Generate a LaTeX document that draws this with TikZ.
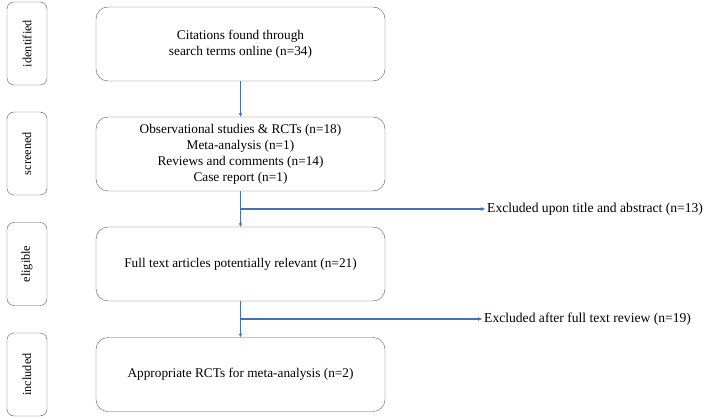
\documentclass[tikz,border=0pt]{standalone}
\usepackage{fontspec}
\setmainfont{Liberation Serif}
\usetikzlibrary{arrows.meta}

\tikzset{
	stagebox/.style={draw=black!65, rounded corners=7pt, minimum width=40pt, minimum height=83pt, inner sep=0pt},
	stagetext/.style={rotate=90, font=\fontsize{12.3}{14}\selectfont},
	mainbox/.style={draw=black!65, rounded corners=12pt, minimum width=289pt, minimum height=74pt, align=center, font=\fontsize{13.3}{16}\selectfont},
	flow/.style={draw=arrowblue, line width=1.1pt, -{Stealth[length=4pt,width=3.5pt]}},
}
\definecolor{arrowblue}{RGB}{68,114,176}

\begin{document}
\begin{tikzpicture}[x=1pt,y=-1pt]
	\useasboundingbox (0,0) rectangle (708,419);

	% Stage labels on the left
	\node[stagebox] (sIdent) at (27,43.5) {};
	\node[stagetext] at (sIdent) {identified};
	\node[stagebox] (sScreen) at (27,153.5) {};
	\node[stagetext] at (sScreen) {screened};
	\node[stagebox] (sElig) at (27,264) {};
	\node[stagetext] at (sElig) {eligible};
	\node[stagebox] (sIncl) at (27,374.5) {};
	\node[stagetext] at (sIncl) {included};

	% Main boxes
	\node[mainbox] (found) at (240.5,44) {Citations found through\\search terms online (n=34)};
	\node[mainbox] (screen) at (240.5,154) {Observational studies \& RCTs (n=18)\\Meta-analysis (n=1)\\Reviews and comments (n=14)\\Case report (n=1)};
	\node[mainbox] (full) at (240.5,264) {Full text articles potentially relevant (n=21)};
	\node[mainbox] (rcts) at (240.5,374.5) {Appropriate RCTs for meta-analysis (n=2)};

	% Excluded texts
	\node[anchor=west, inner sep=2pt, font=\fontsize{13.6}{16}\selectfont] (excl1) at (485,209) {Excluded upon title and abstract (n=13)};
	\node[anchor=west, inner sep=2pt, font=\fontsize{13.6}{16}\selectfont] (excl2) at (482,319) {Excluded after full text review (n=19)};

	% Connectors
	\draw[flow] (found) -- (screen);
	\draw[flow] (screen) -- (full);
	\draw[flow] (full) -- (rcts);
	\draw[flow] (excl1.west -| screen.south) -- (excl1.west);
	\draw[flow] (excl2.west -| full.south) -- (excl2.west);

\end{tikzpicture}
\end{document}
